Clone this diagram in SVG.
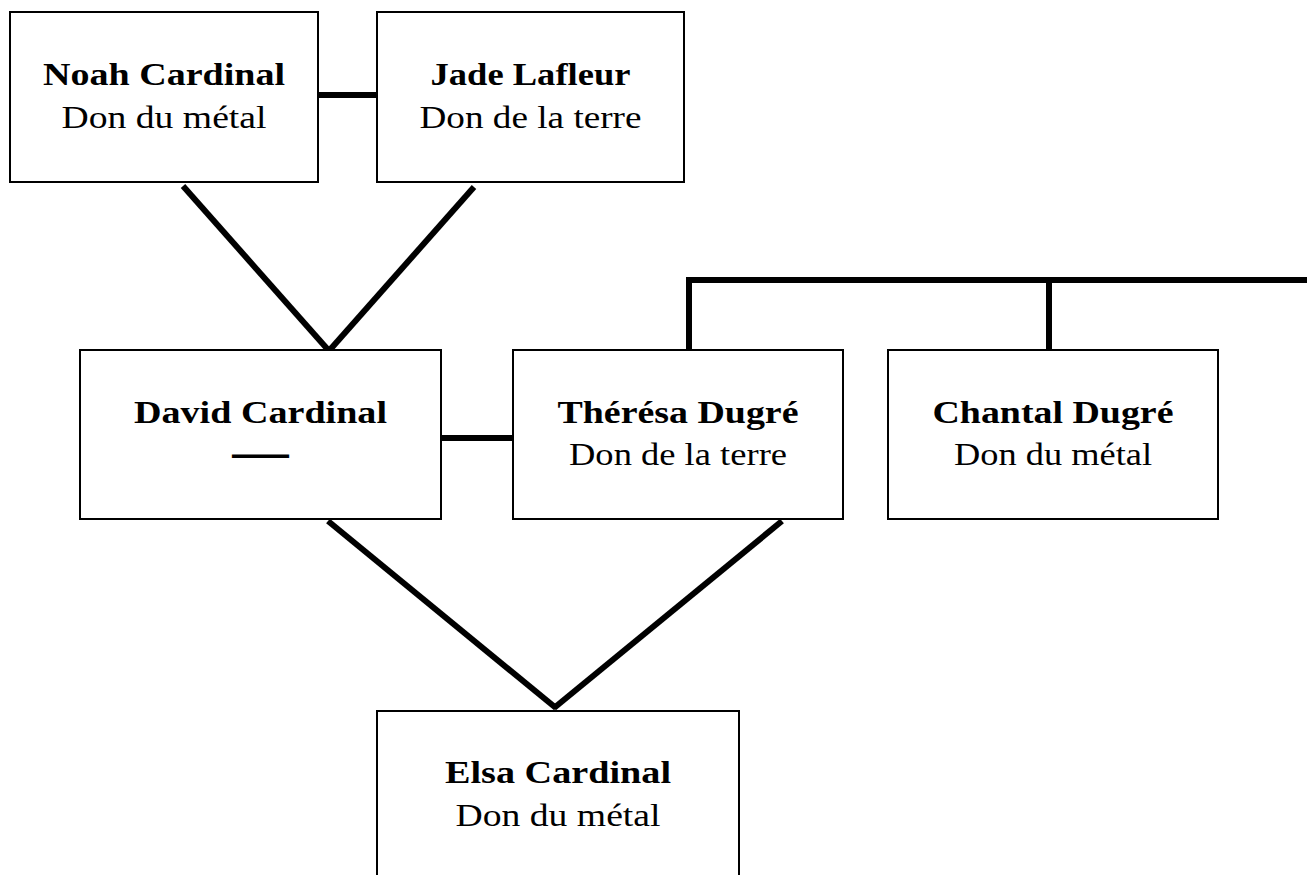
<svg xmlns="http://www.w3.org/2000/svg" width="1307" height="875" viewBox="0 0 1307 875">
<style>
.box{fill:#fff;stroke:#000;stroke-width:2}
.c{stroke:#000;stroke-width:6;fill:none}
.n{font-family:"Liberation Serif","Times New Roman",serif;font-weight:bold;font-size:31px;text-anchor:middle;fill:#000}
.g{font-family:"Liberation Serif","Times New Roman",serif;font-size:31px;text-anchor:middle;fill:#000}
</style>
<rect width="1307" height="875" fill="#fff"/>
<g id="connectors">
<path class="c" d="M318 95H377"/>
<path class="c" d="M183 186L330 352"/>
<path class="c" d="M474 187L328 352"/>
<path class="c" d="M441 438H513"/>
<path class="c" d="M689 350V280H1307"/>
<path class="c" d="M1049 280V350"/>
<path class="c" d="M328 521L556 708"/>
<path class="c" d="M782 521L554 708"/>
</g>
<g id="noah">
<rect class="box" x="10" y="12" width="308" height="170"/>
<text class="n" x="164" y="85" textLength="242" lengthAdjust="spacingAndGlyphs">Noah Cardinal</text>
<text class="g" x="164" y="128" textLength="205" lengthAdjust="spacingAndGlyphs">Don du métal</text>
</g>
<g id="jade">
<rect class="box" x="377" y="12" width="307" height="170"/>
<text class="n" x="530.5" y="85" textLength="200" lengthAdjust="spacingAndGlyphs">Jade Lafleur</text>
<text class="g" x="530.5" y="128" textLength="222" lengthAdjust="spacingAndGlyphs">Don de la terre</text>
</g>
<g id="david">
<rect class="box" x="80" y="350" width="361" height="169"/>
<text class="n" x="260.5" y="423" textLength="253" lengthAdjust="spacingAndGlyphs">David Cardinal</text>
<text class="g" x="260.5" y="464" textLength="53" lengthAdjust="spacingAndGlyphs" stroke="#000" stroke-width="2">—</text>
</g>
<g id="theresa">
<rect class="box" x="513" y="350" width="330" height="169"/>
<text class="n" x="678" y="423" textLength="241" lengthAdjust="spacingAndGlyphs">Thérésa Dugré</text>
<text class="g" x="678" y="465" textLength="218" lengthAdjust="spacingAndGlyphs">Don de la terre</text>
</g>
<g id="chantal">
<rect class="box" x="888" y="350" width="330" height="169"/>
<text class="n" x="1053" y="423" textLength="241" lengthAdjust="spacingAndGlyphs">Chantal Dugré</text>
<text class="g" x="1053" y="465" textLength="198" lengthAdjust="spacingAndGlyphs">Don du métal</text>
</g>
<g id="elsa">
<rect class="box" x="377" y="711" width="362" height="200"/>
<text class="n" x="558" y="783" textLength="226" lengthAdjust="spacingAndGlyphs">Elsa Cardinal</text>
<text class="g" x="558" y="826" textLength="205" lengthAdjust="spacingAndGlyphs">Don du métal</text>
</g>
</svg>
